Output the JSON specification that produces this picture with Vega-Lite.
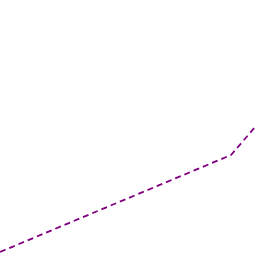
{
  "$schema": "https://vega.github.io/schema/vega-lite/v6.json",
  "autosize": {"type": "fit", "contains": "padding"},
  "width": 256,
  "height": 256,
  "padding": 0,
  "background": "white",
  "config": {"view": {"stroke": null}},
  "data": {"values": [
    {"x": 0, "y": 4},
    {"x": 231, "y": 101},
    {"x": 256, "y": 130}
  ]},
  "mark": {"type": "line", "color": "#800080", "strokeWidth": 1.8, "strokeDash": [6, 4], "clip": true},
  "encoding": {
    "x": {"field": "x", "type": "quantitative", "scale": {"domain": [0, 256], "nice": false, "zero": false}, "axis": null},
    "y": {"field": "y", "type": "quantitative", "scale": {"domain": [0, 256], "nice": false, "zero": false}, "axis": null}
  }
}
